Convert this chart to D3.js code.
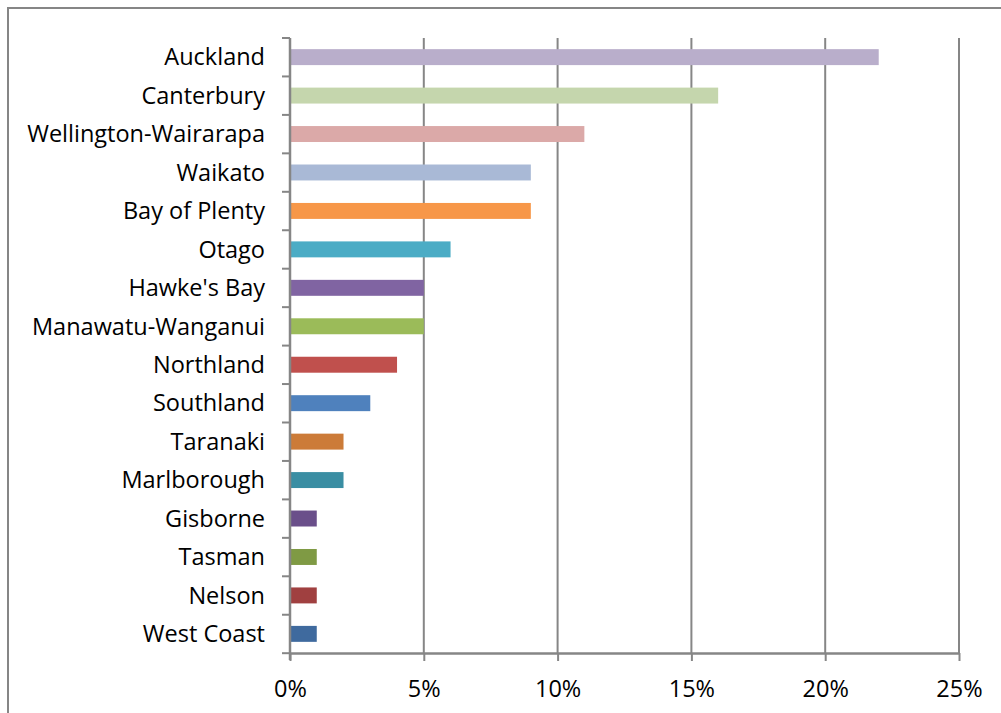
<!DOCTYPE html>
<html>
<head>
<meta charset="utf-8">
<script src="https://cdn.jsdelivr.net/npm/d3@7"></script>
<style>
  body { margin: 0; background: #fff; }
  text { font-family: "Open Sans", "Noto Sans", sans-serif; fill: #000; }
</style>
</head>
<body>
<svg id="chart" width="1001" height="713"></svg>
<script>
// regions, top to bottom
var regions = ["Auckland", "Canterbury", "Wellington-Wairarapa", "Waikato", "Bay of Plenty",
  "Otago", "Hawke's Bay", "Manawatu-Wanganui", "Northland", "Southland", "Taranaki",
  "Marlborough", "Gisborne", "Tasman", "Nelson", "West Coast"];
var shares = [22, 16, 11, 9, 9, 6, 5, 5, 4, 3, 2, 2, 1, 1, 1, 1];
var colors = ["#b9aecb", "#c5d6ad", "#dba9a8", "#a9b9d6", "#f79748", "#4bacc5",
  "#8064a2", "#9bbb59", "#c0504d", "#4f81bd", "#cc7b38", "#3a8ea3",
  "#6a4f8a", "#7f9a44", "#a04040", "#3f6a9e"];
var xTicks = [0, 5, 10, 15, 20, 25];

var svg = d3.select("#chart");

// outer chart border
svg.append("rect")
  .attr("x", 8).attr("y", 8)
  .attr("width", 1010).attr("height", 720)
  .attr("fill", "none")
  .attr("stroke", "#868686")
  .attr("stroke-width", 2);

var plotLeft = 290, plotRight = 959, plotTop = 38, plotBottom = 653;

var x = d3.scaleLinear()
  .domain([0, 25])
  .range([plotLeft, plotRight]);

var y = d3.scaleBand()
  .domain(regions)
  .range([plotTop, plotBottom])
  .paddingInner(0.585)
  .paddingOuter(0.29);

// gridlines
svg.append("g")
  .selectAll("line")
  .data(xTicks.slice(1))
  .enter()
  .append("line")
    .attr("x1", function(d) { return x(d); })
    .attr("x2", function(d) { return x(d); })
    .attr("y1", plotTop)
    .attr("y2", plotBottom)
    .attr("stroke", "#868686")
    .attr("stroke-width", 2);

// bars
svg.append("g")
  .selectAll("rect")
  .data(regions)
  .enter()
  .append("rect")
    .attr("x", x(0))
    .attr("y", function(d) { return y(d); })
    .attr("width", function(d, i) { return x(shares[i]) - x(0); })
    .attr("height", y.bandwidth())
    .attr("fill", function(d, i) { return colors[i]; });

// X axis
var xAxis = svg.append("g")
  .attr("transform", "translate(0," + plotBottom + ")")
  .call(d3.axisBottom(x)
    .tickValues(xTicks)
    .tickFormat(function(d) { return d + "%"; })
    .tickSizeInner(8)
    .tickSizeOuter(0)
    .tickPadding(19));
xAxis.select(".domain").attr("stroke", "#868686").attr("stroke-width", 2.5);
xAxis.selectAll(".tick line").attr("stroke", "#868686").attr("stroke-width", 2);
xAxis.selectAll(".tick text").attr("font-size", 23.5).attr("font-family", "Open Sans");

// Y axis: category labels, ticks at band boundaries
var step = y.step();
var bounds = d3.range(regions.length + 1).map(function(i) { return plotTop + i * step; });
var yAxis = svg.append("g");
yAxis.append("line")
  .attr("x1", plotLeft).attr("x2", plotLeft)
  .attr("y1", plotTop).attr("y2", plotBottom + 7)
  .attr("stroke", "#868686")
  .attr("stroke-width", 2.5);
yAxis.selectAll("line.tick")
  .data(bounds)
  .enter()
  .append("line")
    .attr("class", "tick")
    .attr("x1", plotLeft - 8).attr("x2", plotLeft)
    .attr("y1", function(d) { return d; })
    .attr("y2", function(d) { return d; })
    .attr("stroke", "#868686")
    .attr("stroke-width", 2);
yAxis.selectAll("text")
  .data(regions)
  .enter()
  .append("text")
    .attr("x", plotLeft - 25)
    .attr("y", function(d) { return y(d) + y.bandwidth() / 2; })
    .attr("dy", "0.35em")
    .attr("text-anchor", "end")
    .attr("font-size", 23.5)
    .text(function(d) { return d; });
</script>
</body>
</html>
